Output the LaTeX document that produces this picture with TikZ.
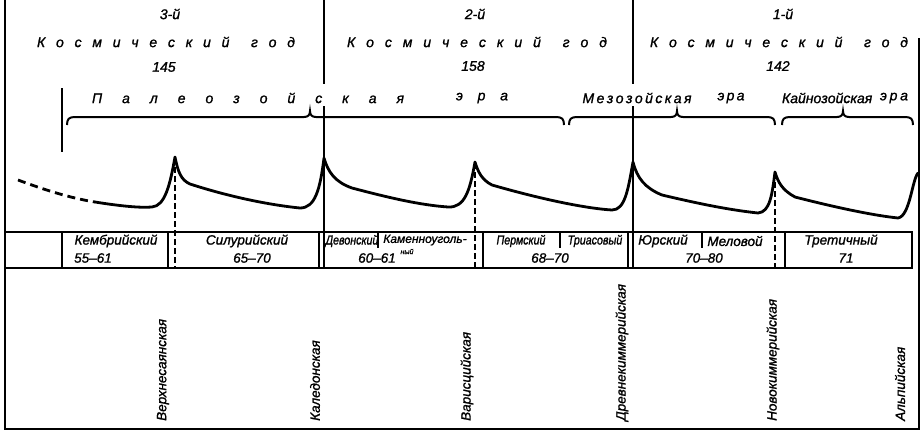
\documentclass[tikz,border=0pt]{standalone}
\usepackage{fontspec}
\setmainfont{Liberation Sans}[ItalicFeatures={FakeBold=1.2}]
\newfontfamily\narrowf{Liberation Sans}[ItalicFeatures={FakeBold=1.2},FakeStretch=0.82]
\begin{document}
\begin{tikzpicture}[x=1pt,y=-1pt,
  frame/.style={line width=2.6pt},
  divider/.style={line width=1.5pt},
  tbl/.style={line width=1.8pt},
  dashv/.style={line width=1.6pt,dash pattern=on 6pt off 3pt},
  curve/.style={line width=2.8pt,line cap=round,line join=round},
  bracestyle/.style={line width=2pt},
  hdr/.style={inner sep=0pt,font=\fontsize{14}{15}\selectfont\itshape},
  era/.style={inner sep=0pt,font=\fontsize{14}{15}\selectfont\itshape},
  cell/.style={inner sep=0pt,font=\fontsize{13.5}{14}\selectfont\itshape},
  ncell/.style={inner sep=0pt,font=\fontsize{13}{14}\narrowf\itshape},
  tiny/.style={inner sep=0pt,font=\fontsize{7}{8}\selectfont\itshape},
  vlab/.style={inner sep=0pt,rotate=90,anchor=west,font=\fontsize{13.5}{14}\selectfont\itshape}]
\useasboundingbox (0,0) rectangle (921,434);
\fill[white] (0,0) rectangle (921,434);

% frame
\draw[frame] (5,0) -- (5,429) -- (919,429) -- (919,38);
\draw[divider] (62,88) -- (62,152);
\draw[divider] (324,0) -- (324,84);
\draw[divider] (324,106) -- (324,268);
\draw[divider] (633,0) -- (633,84);
\draw[divider] (633,106) -- (633,268);

% headers
\node[hdr] (n3) at (170,14) {3-й};
\node[hdr] (n2) at (475,14) {2-й};
\node[hdr] (n1) at (783,14) {1-й};
\node[hdr] (k3) at (166,42) {\hbox to 258pt{К\hfill о\hfill с\hfill м\hfill и\hfill ч\hfill е\hfill с\hfill к\hfill и\hfill й\hskip 0pt plus 2fill г\hfill о\hfill д}};
\node[hdr] (k2) at (477,42) {\hbox to 260pt{К\hfill о\hfill с\hfill м\hfill и\hfill ч\hfill е\hfill с\hfill к\hfill и\hfill й\hskip 0pt plus 2fill г\hfill о\hfill д}};
\node[hdr] (k1) at (779,42) {\hbox to 258pt{К\hfill о\hfill с\hfill м\hfill и\hfill ч\hfill е\hfill с\hfill к\hfill и\hfill й\hskip 0pt plus 2fill г\hfill о\hfill д}};
\node[hdr] (y3) at (164,67) {145};
\node[hdr] (y2) at (473,66) {158};
\node[hdr] (y1) at (778,66) {142};

% eras
\node[era] (pal) at (248,98) {\hbox to 312pt{П\hfill а\hfill л\hfill е\hfill о\hfill з\hfill о\hfill й\hfill с\hfill к\hfill а\hfill я}};
\node[era] (pale) at (482,98) {\hbox to 52pt{э\hfill р\hfill а}};
\node[era] (mez) at (637,98) {\hbox to 109pt{М\hfill е\hfill з\hfill о\hfill з\hfill о\hfill й\hfill с\hfill к\hfill а\hfill я}};
\node[era] (meze) at (731,98) {\hbox to 27pt{э\hfill р\hfill а}};
\node[era] (kai) at (827,98) {\hbox to 90pt{К\hfill а\hfill й\hfill н\hfill о\hfill з\hfill о\hfill й\hfill с\hfill к\hfill а\hfill я}};
\node[era] (kaie) at (894,98) {\hbox to 28pt{э\hfill р\hfill а}};

% braces
\def\erabrace#1#2#3{\draw[bracestyle] (#1,125) .. controls (#1,119) and (#1+2,117) .. (#1+8,117) -- (#2-6,117) .. controls (#2-2,117) and (#2,115) .. (#2,111) .. controls (#2,115) and (#2+2,117) .. (#2+6,117) -- (#3-8,117) .. controls (#3-2,117) and (#3,119) .. (#3,125);}
\erabrace{67}{310}{564}
\erabrace{569}{677}{775}
\erabrace{782}{843}{913}

% curve
\draw[curve,dash pattern=on 8pt off 5pt,line cap=butt] (18,180) .. controls (45,190) and (70,198) .. (95,202);
\draw[curve] (95,202) .. controls (120,206) and (140,208) .. (152,207)
  .. controls (165,206) and (170,185) .. (175,157)
  .. controls (178,172) and (181,180) .. (190,184)
  .. controls (230,197) and (270,205) .. (300,208)
  .. controls (315,208) and (320,190) .. (324,158)
  .. controls (328,172) and (335,182) .. (352,188)
  .. controls (390,198) and (420,205) .. (448,207)
  .. controls (465,208) and (470,190) .. (475,162)
  .. controls (478,172) and (482,180) .. (492,185)
  .. controls (530,196) and (580,208) .. (612,210)
  .. controls (625,210) and (628,190) .. (633,162)
  .. controls (637,178) and (645,188) .. (662,195)
  .. controls (700,204) and (730,210) .. (758,213)
  .. controls (770,212) and (772,195) .. (775,172)
  .. controls (778,182) and (782,190) .. (795,197)
  .. controls (830,206) and (870,215) .. (898,218)
  .. controls (910,216) and (912,180) .. (918,173);

% dashed verticals
\draw[dashv] (175,158) -- (175,268);
\draw[dashv] (475,163) -- (475,268);
\draw[dashv] (775,173) -- (775,268);

% table
\draw[tbl] (5,232) -- (912,232) -- (912,268) -- (5,268);
\foreach \xx in {62,168,319,483,628,785} \draw[tbl] (\xx,232) -- (\xx,268);
\foreach \xx in {378,560,702} \draw[line width=1.2pt] (\xx,233) -- (\xx,248);

\node[cell] (c1) at (116,241) {Кембрийский};
\node[cell] (c1n) at (93,258) {55–61};
\node[cell] (c2) at (247,241) {Силурийский};
\node[cell] (c2n) at (252,258) {65–70};
\node[ncell] (c3) at (352,241) {Девонский};
\node[cell,font=\fontsize{12}{13}\selectfont\itshape] (c4) at (425,240) {Каменноуголь-};
\node[tiny] (c4b) at (407,251.5) {ный};
\node[cell] (c3n) at (377,258) {60–61};
\node[ncell] (c5) at (521,241) {Пермский};
\node[ncell] (c6) at (595,241) {Триасовый};
\node[cell] (c5n) at (550,258) {68–70};
\node[cell] (c7) at (663,241) {Юрский};
\node[cell] (c8) at (735,241) {Меловой};
\node[cell] (c7n) at (704,258) {70–80};
\node[cell] (c9) at (841,241) {Третичный};
\node[cell] (c9n) at (846,258) {71};

% orogenies
\node[vlab] (o1) at (163,421) {Верхнесаянская};
\node[vlab] (o2) at (315,421) {Каледонская};
\node[vlab] (o3) at (467,421) {Варисцийская};
\node[vlab] (o4) at (622,421) {Древнекиммерийская};
\node[vlab] (o5) at (773,421) {Новокиммерийская};
\node[vlab] (o6) at (900,421) {Альпийская};
\end{tikzpicture}
\end{document}
